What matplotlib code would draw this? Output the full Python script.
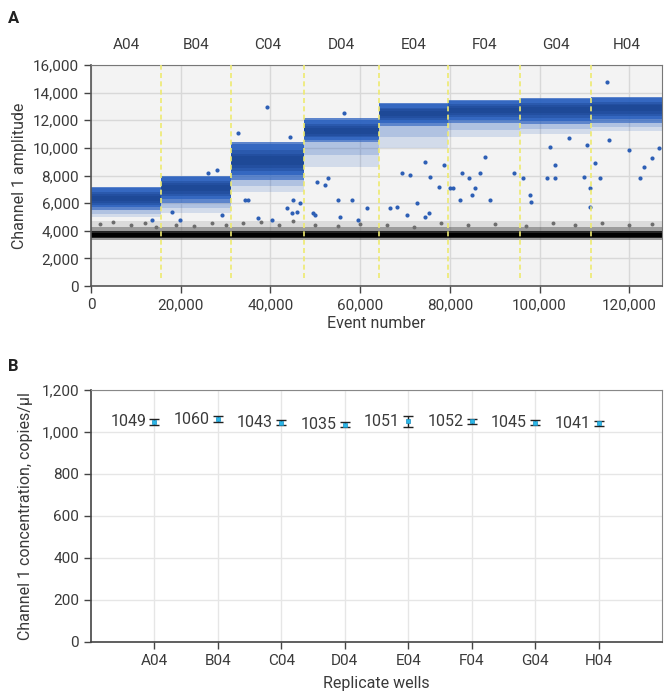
import matplotlib
matplotlib.use("Agg")
import matplotlib.pyplot as plt
from matplotlib.ticker import FuncFormatter

plt.rcParams['font.family'] = ['Roboto', 'DejaVu Sans']

# ---- panel A: droplet amplitudes per well ----
wells = ['A04', 'B04', 'C04', 'D04', 'E04', 'F04', 'G04', 'H04']
well_edges = [0, 15600, 31200, 47500, 64200, 79600, 95700, 111500, 127300]
pos_core = [6350, 7100, 9100, 11200, 12500, 12750, 12750, 12900]
pos_top = [7200, 8000, 10400, 12150, 13250, 13500, 13600, 13700]
pos_dense_low = [5500, 6000, 7700, 10400, 11600, 11800, 11700, 11800]
pos_sparse_low = [5000, 5300, 6800, 8600, 10000, 10800, 11000, 11200]
neg_core = (3480, 3980)
neg_fuzz = (3300, 4250)
neg_sparse_top = 4700

# scattered positive droplets (event, amplitude)
out_x = [56300, 50000, 55500, 58150, 59600, 61500, 66700, 68200, 70400, 72650,
         74500, 75250, 77500, 78600, 75600, 74500, 71200, 69300, 80100, 80800,
         82300, 82700, 84200, 84900, 85650, 87900, 86800, 89000, 94200, 96400,
         97900, 98100, 101650, 103500, 103500, 102400, 106500, 109800, 110600, 111300,
         111300, 112400, 113550, 115000, 115400, 119850, 122450, 123200, 125050, 126550,
         39200, 32700, 44400, 34350, 35100, 37300, 40300, 43650, 44750, 45900,
         45100, 46600, 18000, 19850, 28050, 26150, 29150, 13550, 49600, 50300,
         52950, 52200, 55150]
out_y = [12510, 5150, 5020, 6230, 4780, 5630, 5630, 5750, 5150, 5990,
         5020, 5270, 7200, 8770, 7920, 9010, 8040, 8170, 7080, 7080,
         6230, 8170, 7800, 6590, 7080, 9370, 8170, 6230, 8170, 7800,
         6590, 6110, 7800, 8770, 7800, 10090, 10700, 7920, 10220, 7080,
         5750, 8890, 7800, 14800, 10580, 9860, 7800, 8650, 9250, 9980,
         12990, 11060, 10820, 6230, 6230, 4900, 4780, 5630, 5270, 5390,
         6230, 5990, 5390, 4780, 8410, 8170, 5150, 4780, 5270, 7560,
         7800, 7320, 6230]

# scattered grey droplets just above the negative band
gray_x = [2000, 5000, 9000, 12000, 14500, 19000, 23000, 27000, 30000, 34000,
          38000, 42000, 45000, 50000, 55000, 60000, 66000, 72000, 78000, 84000,
          90000, 97000, 103000, 108000, 114000, 120000, 125000]
gray_y = [4500, 4650, 4400, 4550, 4300, 4450, 4350, 4600, 4400, 4550,
          4650, 4450, 4700, 4400, 4350, 4500, 4450, 4300, 4600, 4400,
          4500, 4350, 4550, 4400, 4600, 4450, 4500]

# ---- panel B: concentration per well ----
conc = [1049, 1060, 1043, 1035, 1051, 1052, 1045, 1041]
conc_err = [14, 14, 12, 13, 26, 12, 11, 12]

text_c = '#3a3a3a'
blue = '#2b61bf'
fig = plt.figure(figsize=(6.65, 6.96), dpi=100)

# ===== Panel A =====
axA = fig.add_axes([0.1368, 0.589, 0.8587, 0.3176])
axA.set_facecolor('#f3f3f3')
axA.set_xlim(0, 127300)
axA.set_ylim(0, 16000)
axA.grid(True, color='#d8d8d8', lw=1)
axA.set_axisbelow(True)

for i in range(len(wells)):
    x0, x1 = well_edges[i], well_edges[i + 1]
    lo = pos_core[i] - pos_dense_low[i]
    hi = pos_top[i] - pos_core[i]
    # sparse droplet fringe below the band
    axA.fill_between([x0, x1], pos_sparse_low[i], pos_dense_low[i],
                     color=blue, alpha=0.16, lw=0)
    axA.fill_between([x0, x1], (pos_sparse_low[i] + pos_dense_low[i]) / 2, pos_dense_low[i],
                     color=blue, alpha=0.2, lw=0)
    axA.fill_between([x0, x1], pos_dense_low[i], pos_top[i], color=blue, alpha=0.75, lw=0)
    axA.fill_between([x0, x1], pos_core[i] - lo * 0.75, pos_top[i] - hi * 0.1,
                     color=blue, alpha=0.8, lw=0)
    for f in [0.55, 0.38, 0.22]:
        axA.fill_between([x0, x1], pos_core[i] - lo * f, pos_core[i] + hi * f,
                         color='#173f88', alpha=0.35, lw=0)

# negative droplet band, dense black core with grey fuzz
axA.fill_between([0, 127300], neg_fuzz[1], neg_sparse_top, color='#888888', alpha=0.22, lw=0)
axA.fill_between([0, 127300], neg_fuzz[0], neg_fuzz[1], color='#555555', alpha=0.55, lw=0)
axA.fill_between([0, 127300], neg_core[0], neg_core[1], color='#111111', alpha=0.85, lw=0)
axA.fill_between([0, 127300], neg_core[0] + 100, neg_core[1] - 120, color='#000000', lw=0)
axA.scatter(gray_x, gray_y, s=8, color='#6d6d6d', lw=0, zorder=3)
axA.scatter(out_x, out_y, s=9, color='#2d5fb5', lw=0, zorder=3)

for e in well_edges[1:-1]:
    axA.plot([e, e], [600, 16000], color='#eeea70', lw=1.2, ls=(0, (3, 2)), zorder=4)

for i, w in enumerate(wells):
    mid = (well_edges[i] + well_edges[i + 1]) / 2
    axA.text(mid, 1.09, w, transform=axA.get_xaxis_transform(), ha='center', va='center',
             fontsize=11, color=text_c)

axA.set_xticks(range(0, 120001, 20000))
axA.set_yticks(range(0, 16001, 2000))
fmt = FuncFormatter(lambda v, p: f'{int(v):,}')
axA.xaxis.set_major_formatter(fmt)
axA.yaxis.set_major_formatter(fmt)
axA.tick_params(labelsize=11, colors='#444444', labelcolor=text_c, length=5, width=1)
for s in ['left', 'bottom']:
    axA.spines[s].set_color('#555555')
    axA.spines[s].set_linewidth(1.2)
for s in ['top', 'right']:
    axA.spines[s].set_color('#777777')
axA.set_xlabel('Event number', fontsize=11.5, color=text_c, labelpad=3)
axA.set_ylabel('Channel 1 amplitude', fontsize=11.5, color=text_c, labelpad=4)

# ===== Panel B =====
axB = fig.add_axes([0.1368, 0.0776, 0.8587, 0.3621])
axB.set_xlim(0, 9)
axB.set_ylim(0, 1200)
axB.grid(True, color='#e6e6e6', lw=1)
axB.set_axisbelow(True)
xs = list(range(1, len(wells) + 1))
axB.errorbar(xs, conc, yerr=conc_err, fmt='none', ecolor='#222222', elinewidth=1, capsize=3.5, capthick=1)
axB.scatter(xs, conc, marker='s', s=11, color='#2bb6e6', edgecolor='#1a8fc0', lw=0.5, zorder=3)
for x, c in zip(xs, conc):
    axB.text(x - 0.13, c, str(c), ha='right', va='center', fontsize=11.5, color=text_c)

axB.set_xticks(xs)
axB.set_xticklabels(wells)
axB.set_yticks(range(0, 1201, 200))
axB.yaxis.set_major_formatter(fmt)
axB.tick_params(labelsize=11, colors='#444444', labelcolor=text_c, length=5, width=1)
for s in ['left', 'bottom']:
    axB.spines[s].set_color('#444444')
    axB.spines[s].set_linewidth(1.2)
for s in ['top', 'right']:
    axB.spines[s].set_color('#888888')
axB.set_xlabel('Replicate wells', fontsize=11.5, color=text_c, labelpad=6)
axB.set_ylabel('Channel 1 concentration, copies/\u00b5l', fontsize=11.5, color=text_c, labelpad=6)

fig.text(0.012, 0.974, 'A', fontsize=12, fontweight='bold', color='#222222', va='center')
fig.text(0.012, 0.473, 'B', fontsize=12, fontweight='bold', color='#222222', va='center')

fig.savefig('out.png', dpi=100)
